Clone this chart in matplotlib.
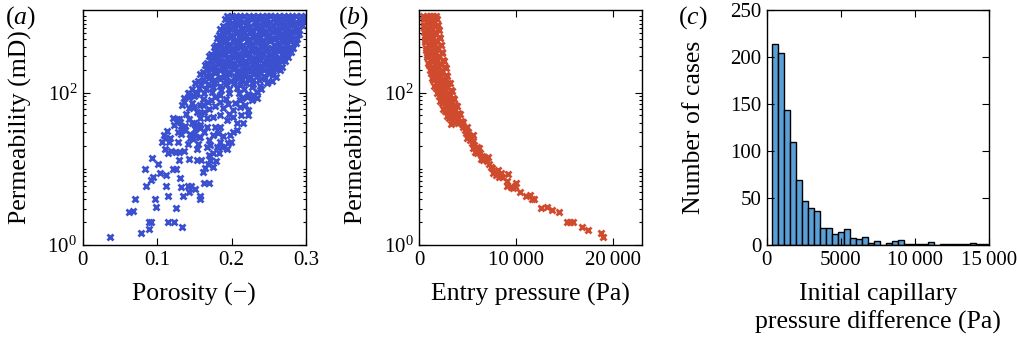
import numpy as np
import matplotlib
matplotlib.use("Agg")
import matplotlib.pyplot as plt
from matplotlib.ticker import FixedLocator, LogLocator, NullFormatter

# ---------------- data ----------------
# Panel (a): porosity vs log10(permeability / mD)
# dense band, row by row
poro_dense = [
    0.194, 0.200, 0.206, 0.211, 0.217, 0.224, 0.229, 0.235, 0.241, 0.247, 0.252, 0.258, 0.264, 0.270, 0.276, 0.281, 0.287, 0.293, 0.298,
    0.191, 0.197, 0.204, 0.209, 0.215, 0.221, 0.228, 0.233, 0.239, 0.246, 0.251, 0.257, 0.262, 0.269, 0.274, 0.280, 0.286, 0.291, 0.296,
    0.188, 0.195, 0.201, 0.207, 0.212, 0.219, 0.225, 0.231, 0.237, 0.243, 0.249, 0.255, 0.260, 0.266, 0.272, 0.278, 0.284, 0.289, 0.294,
    0.185, 0.191, 0.198, 0.204, 0.209, 0.216, 0.222, 0.228, 0.234, 0.239, 0.246, 0.252, 0.258, 0.263, 0.269, 0.275, 0.281, 0.286, 0.291,
    0.183, 0.189, 0.195, 0.201, 0.207, 0.213, 0.219, 0.226, 0.232, 0.238, 0.243, 0.249, 0.255, 0.261, 0.267, 0.273, 0.279, 0.285, 0.290,
    0.181, 0.187, 0.193, 0.199, 0.205, 0.211, 0.217, 0.223, 0.229, 0.236, 0.242, 0.247, 0.253, 0.259, 0.265, 0.271, 0.277, 0.283, 0.288,
    0.179, 0.185, 0.191, 0.197, 0.203, 0.209, 0.215, 0.221, 0.227, 0.233, 0.239, 0.245, 0.251, 0.257, 0.263, 0.269, 0.275, 0.280, 0.286,
    0.176, 0.182, 0.188, 0.194, 0.200, 0.206, 0.212, 0.218, 0.224, 0.230, 0.236, 0.242, 0.248, 0.254, 0.260, 0.266, 0.272, 0.278, 0.283,
    0.173, 0.179, 0.185, 0.191, 0.197, 0.203, 0.209, 0.215, 0.221, 0.227, 0.233, 0.239, 0.245, 0.251, 0.257, 0.263, 0.269, 0.275, 0.280,
    0.170, 0.176, 0.182, 0.188, 0.194, 0.200, 0.206, 0.212, 0.218, 0.224, 0.230, 0.236, 0.241, 0.247, 0.253, 0.259, 0.265, 0.271, 0.276,
    0.167, 0.173, 0.179, 0.185, 0.191, 0.197, 0.203, 0.209, 0.214, 0.220, 0.226, 0.232, 0.238, 0.244, 0.250, 0.255, 0.261, 0.267, 0.272,
    0.164, 0.170, 0.176, 0.182, 0.188, 0.194, 0.200, 0.205, 0.211, 0.217, 0.223, 0.229, 0.235, 0.240, 0.246, 0.252, 0.258, 0.263, 0.268,
    0.161, 0.167, 0.173, 0.179, 0.185, 0.190, 0.196, 0.202, 0.208, 0.214, 0.220, 0.226, 0.231, 0.237, 0.243, 0.249, 0.254, 0.260, 0.265,
    0.158, 0.165, 0.171, 0.178, 0.184, 0.191, 0.197, 0.204, 0.210, 0.217, 0.223, 0.230, 0.236, 0.243, 0.249, 0.255, 0.260,
    0.155, 0.162, 0.170, 0.177, 0.185, 0.192, 0.199, 0.207, 0.214, 0.222, 0.229, 0.237, 0.245, 0.254,
    0.151, 0.159, 0.168, 0.176, 0.185, 0.193, 0.203, 0.211, 0.220, 0.229, 0.238, 0.247,
    0.147, 0.156, 0.166, 0.175, 0.186, 0.196, 0.207, 0.217, 0.228, 0.240,
    0.142, 0.152, 0.163, 0.174, 0.185, 0.197, 0.210, 0.222, 0.234,
    0.136, 0.149, 0.161, 0.178, 0.193, 0.214, 0.230,
]
logperm_dense = [
    3.00, 3.00, 3.00, 3.00, 3.00, 3.00, 3.00, 3.00, 3.00, 3.00, 3.00, 3.00, 3.00, 3.00, 3.00, 3.00, 3.00, 3.00, 3.00,
    2.96, 2.94, 2.95, 2.97, 2.93, 2.95, 2.96, 2.94, 2.97, 2.95, 2.93, 2.96, 2.95, 2.94, 2.97, 2.95, 2.93, 2.96, 2.95,
    2.87, 2.89, 2.91, 2.88, 2.90, 2.89, 2.87, 2.91, 2.88, 2.90, 2.89, 2.88, 2.91, 2.87, 2.89, 2.90, 2.88, 2.91, 2.89,
    2.84, 2.82, 2.83, 2.85, 2.81, 2.83, 2.84, 2.82, 2.85, 2.83, 2.81, 2.84, 2.83, 2.82, 2.85, 2.83, 2.81, 2.84, 2.82,
    2.75, 2.77, 2.79, 2.76, 2.78, 2.77, 2.75, 2.79, 2.76, 2.78, 2.77, 2.76, 2.79, 2.75, 2.77, 2.78, 2.76, 2.79, 2.77,
    2.72, 2.70, 2.71, 2.73, 2.69, 2.71, 2.72, 2.70, 2.73, 2.71, 2.69, 2.72, 2.71, 2.70, 2.73, 2.71, 2.69, 2.72, 2.70,
    2.63, 2.65, 2.67, 2.64, 2.66, 2.65, 2.63, 2.67, 2.64, 2.66, 2.65, 2.64, 2.67, 2.63, 2.65, 2.66, 2.64, 2.67, 2.65,
    2.60, 2.58, 2.59, 2.61, 2.57, 2.59, 2.60, 2.58, 2.61, 2.59, 2.57, 2.60, 2.59, 2.58, 2.61, 2.59, 2.57, 2.60, 2.58,
    2.51, 2.53, 2.55, 2.52, 2.54, 2.53, 2.51, 2.55, 2.52, 2.54, 2.53, 2.52, 2.55, 2.51, 2.53, 2.54, 2.52, 2.55, 2.53,
    2.48, 2.46, 2.47, 2.49, 2.45, 2.47, 2.48, 2.46, 2.49, 2.47, 2.45, 2.48, 2.47, 2.46, 2.49, 2.47, 2.45, 2.48, 2.46,
    2.39, 2.41, 2.43, 2.40, 2.42, 2.41, 2.39, 2.43, 2.40, 2.42, 2.41, 2.40, 2.43, 2.39, 2.41, 2.42, 2.40, 2.43, 2.41,
    2.36, 2.34, 2.35, 2.37, 2.33, 2.35, 2.36, 2.34, 2.37, 2.35, 2.33, 2.36, 2.35, 2.34, 2.37, 2.35, 2.33, 2.36, 2.34,
    2.27, 2.29, 2.31, 2.28, 2.30, 2.29, 2.27, 2.31, 2.28, 2.30, 2.29, 2.28, 2.31, 2.27, 2.29, 2.30, 2.28, 2.31, 2.29,
    2.24, 2.22, 2.23, 2.25, 2.21, 2.23, 2.24, 2.22, 2.25, 2.23, 2.21, 2.24, 2.23, 2.22, 2.25, 2.23, 2.21,
    2.15, 2.17, 2.19, 2.16, 2.18, 2.17, 2.15, 2.19, 2.16, 2.18, 2.17, 2.16, 2.19, 2.15,
    2.12, 2.10, 2.11, 2.13, 2.09, 2.11, 2.12, 2.10, 2.13, 2.11, 2.09, 2.12,
    2.04, 2.06, 2.05, 2.07, 2.03, 2.05, 2.06, 2.04, 2.07, 2.05,
    2.00, 1.98, 1.99, 2.01, 1.97, 1.99, 2.00, 1.98, 2.01,
    1.93, 1.95, 1.92, 1.94, 1.91, 1.93, 1.95,
]
# sparser points of panel (a): (porosity, log10 permeability)
poro_sparse = [
    0.0371, 0.0788, 0.0896, 0.0896, 0.0913, 0.0627, 0.0680, 0.0703, 0.0967, 0.0985,
    0.0851, 0.0920, 0.0945, 0.1035, 0.1115, 0.0842, 0.0927, 0.1008, 0.1218, 0.1258,
    0.1147, 0.1151, 0.1228, 0.1335, 0.1250, 0.1308, 0.1115, 0.1326, 0.1344, 0.1425,
    0.1410, 0.1456, 0.1513, 0.1570, 0.1570, 0.1299, 0.1425, 0.1536, 0.1590, 0.1106,
    0.1142, 0.1191, 0.1260, 0.1290, 0.1366, 0.1066, 0.1164, 0.1174, 0.1110, 0.1093,
    0.1129, 0.1277, 0.1281, 0.1317, 0.1335, 0.1375, 0.1223, 0.1218, 0.1267, 0.1299,
    0.1321, 0.1312, 0.1393, 0.1411, 0.1442, 0.1482, 0.1492, 0.1438, 0.1546, 0.1577,
    0.1536, 0.1371, 0.1469, 0.1425, 0.1496, 0.1532, 0.1577, 0.1513, 0.1335, 0.1357,
    0.1469, 0.1425, 0.1425, 0.1536, 0.1573, 0.1425, 0.1492, 0.1536, 0.1580,
    0.1633, 0.1698, 0.1620, 0.1648, 0.1688, 0.1755, 0.1710, 0.1792, 0.1702, 0.1755,
    0.1828, 0.1872, 0.1949, 0.1989, 0.1935, 0.1845, 0.1801, 0.1710, 0.1702, 0.1667,
    0.1747, 0.1823, 0.1882, 0.1980, 0.2025, 0.2078, 0.2070, 0.2159, 0.2226, 0.2226,
    0.2124, 0.2025, 0.1935, 0.1845, 0.1778, 0.1667, 0.1577, 0.1559, 0.1630, 0.1577,
    0.1667, 0.1755, 0.1845, 0.2025, 0.2114, 0.2181, 0.2272, 0.2339, 0.2339, 0.2293,
    0.2204, 0.2114, 0.2047, 0.1700, 0.1780, 0.1880, 0.1950, 0.1630, 0.1850, 0.1730,
    0.1960, 0.1610, 0.1680,
]
logperm_sparse = [
    0.105, 0.153, 0.206, 0.298, 0.298, 0.429, 0.450, 0.600, 0.600, 0.499,
    0.774, 0.850, 0.888, 0.950, 0.915, 0.997, 1.142, 1.059, 0.997, 0.997,
    0.643, 0.298, 0.298, 0.232, 0.490, 0.884, 0.774, 0.757, 0.647, 0.696,
    0.774, 0.774, 0.739, 0.643, 0.600, 1.110, 1.128, 1.115, 1.115, 1.260,
    1.211, 1.234, 1.220, 1.220, 1.230, 1.348, 1.356, 1.400, 1.408, 1.448,
    1.492, 1.356, 1.479, 1.457, 1.505, 1.505, 1.579, 1.667, 1.650, 1.650,
    1.566, 1.618, 1.715, 1.330, 1.400, 1.395, 1.461, 1.461, 1.330, 1.420,
    1.256, 1.558, 1.597, 1.650, 1.605, 1.579, 1.579, 1.518, 1.841, 1.877,
    1.867, 1.946, 1.990, 1.990, 1.837, 1.794, 1.815, 1.749, 1.728,
    0.818, 0.818, 0.962, 1.006, 1.059, 1.027, 1.115, 1.106, 1.181, 1.203,
    1.203, 1.282, 1.335, 1.348, 1.260, 1.356, 1.290, 1.312, 1.378, 1.282,
    1.444, 1.466, 1.430, 1.444, 1.487, 1.509, 1.597, 1.597, 1.772, 1.706,
    1.706, 1.684, 1.640, 1.552, 1.552, 1.552, 1.531, 1.421, 1.487, 1.662,
    1.662, 1.684, 1.706, 1.772, 1.815, 1.837, 1.903, 1.925, 2.012, 1.969,
    1.946, 1.903, 1.860, 1.780, 1.820, 1.800, 1.850, 1.750, 1.880, 1.900,
    1.720, 1.830, 1.870,
]

# Panel (b): entry pressure (Pa) vs log10(permeability / mD)
pe_dense = [
    420, 750, 1090, 1420, 1750,
    440, 790, 1120, 1480, 1820,
    450, 810, 1180, 1540, 1890,
    460, 840, 1210, 1590, 1950,
    500, 880, 1260, 1640, 2010,
    540, 920, 1300, 1690, 2070,
    580, 970, 1360, 1750, 2140,
    620, 1020, 1410, 1810, 2200,
    670, 1070, 1470, 1870, 2260,
    720, 1120, 1520, 1930, 2320,
    780, 1190, 1590, 1990, 2390,
    840, 1250, 1650, 2060, 2460,
    910, 1320, 1730, 2140, 2540,
    990, 1400, 1810, 2220, 2620,
    1070, 1480, 1890, 2310, 2710,
    1160, 1570, 1980, 2390, 2790,
    1270, 1680, 2090, 2490, 2890,
    1390, 1790, 2200, 2600, 2990,
    1530, 1930, 2330, 2730, 3120,
    1690, 2090, 2480, 2880, 3260,
    1860, 2240, 2620, 3000, 3370,
    2010, 2380, 2750, 3130, 3490,
    2160, 2530, 2890, 3260, 3610,
    2310, 2670, 3030, 3390, 3730,
    2480, 2830, 3170, 3520, 3850,
    2660, 3000, 3330, 3670, 3990,
    2860, 3190, 3520, 3850, 4170,
    3060, 3390, 3710, 4030, 4340,
    3260, 3650, 4000, 4400,
]
logperm_b_dense = [
    3.00, 3.00, 3.00, 3.00, 3.00,
    2.96, 2.94, 2.95, 2.93, 2.96,
    2.89, 2.91, 2.90, 2.92, 2.88,
    2.86, 2.84, 2.85, 2.87, 2.83,
    2.79, 2.81, 2.80, 2.78, 2.82,
    2.76, 2.74, 2.75, 2.77, 2.73,
    2.69, 2.71, 2.70, 2.68, 2.72,
    2.66, 2.64, 2.65, 2.67, 2.63,
    2.59, 2.61, 2.60, 2.58, 2.62,
    2.56, 2.54, 2.55, 2.57, 2.53,
    2.49, 2.51, 2.50, 2.48, 2.52,
    2.46, 2.44, 2.45, 2.47, 2.43,
    2.39, 2.41, 2.40, 2.38, 2.42,
    2.36, 2.34, 2.35, 2.37, 2.33,
    2.29, 2.31, 2.30, 2.28, 2.32,
    2.26, 2.24, 2.25, 2.27, 2.23,
    2.19, 2.21, 2.20, 2.18, 2.22,
    2.16, 2.14, 2.15, 2.17, 2.13,
    2.09, 2.11, 2.10, 2.08, 2.12,
    2.06, 2.04, 2.05, 2.07, 2.03,
    1.99, 2.01, 2.00, 1.98, 2.02,
    1.96, 1.94, 1.95, 1.97, 1.93,
    1.89, 1.91, 1.90, 1.88, 1.92,
    1.86, 1.84, 1.85, 1.87, 1.83,
    1.79, 1.81, 1.80, 1.78, 1.82,
    1.76, 1.74, 1.75, 1.77, 1.73,
    1.69, 1.71, 1.70, 1.68, 1.72,
    1.66, 1.64, 1.65, 1.67, 1.63,
    1.59, 1.61, 1.60, 1.62,
]
pe_tail = [
    18969, 18700, 17392, 16773, 15814, 15536, 15258, 14371, 13680, 13134,
    12546, 11856, 11650, 11443, 11000, 10381, 9969, 9897, 9629, 9454,
    9072, 9072, 9150, 8495, 8247, 8423, 8144, 7907, 7629, 7495,
    7361, 7155, 7082, 6948, 6598, 6330, 6433, 6701, 6258, 6082,
    5918, 5742, 6186, 5918, 5670, 5567, 5402, 5227, 5155, 4948,
    4814, 4711, 4536, 4371, 4196, 5505, 5567, 5051, 4887, 4536,
]
logperm_b_tail = [
    0.101, 0.153, 0.201, 0.232, 0.298, 0.298, 0.298, 0.433, 0.455, 0.503,
    0.490, 0.600, 0.600, 0.652, 0.647, 0.700, 0.818, 0.778, 0.744, 0.765,
    0.774, 0.840, 0.928, 0.896, 0.896, 0.941, 0.984, 0.919, 0.941, 1.006,
    1.028, 1.059, 1.159, 1.106, 1.115, 1.125, 1.168, 1.151, 1.203, 1.238,
    1.203, 1.225, 1.273, 1.290, 1.312, 1.269, 1.335, 1.378, 1.430, 1.400,
    1.466, 1.509, 1.552, 1.588, 1.618, 1.444, 1.369, 1.487, 1.552, 1.618,
]

# Panel (c): histogram of initial capillary pressure difference (Pa)
bin_edges = [378, 783, 1188, 1593, 1998, 2403, 2808, 3213, 3618, 4023, 4428,
             4833, 5238, 5643, 6048, 6453, 6858, 7263, 7668, 8073, 8478,
             8883, 9288, 9693, 10098, 10503, 10908, 11313, 11718, 12123,
             12528, 12933, 13338, 13743, 14148, 14553, 14958]
counts = [214, 204, 144, 110, 69, 47, 39, 36, 18, 18, 12, 14, 17, 7, 6, 8,
          2, 4, 0, 2, 4, 5, 1, 1, 1, 1, 3, 0, 1, 1, 1, 1, 1, 2, 1, 1]

# ---------------- style ----------------
plt.rcParams['font.family'] = 'Liberation Serif'
plt.rcParams['mathtext.fontset'] = 'custom'
plt.rcParams['mathtext.rm'] = 'Liberation Serif'
plt.rcParams['mathtext.it'] = 'Liberation Serif:italic'
plt.rcParams['mathtext.bf'] = 'Liberation Serif:bold'

BLUE = '#3a50cf'
RED = '#d04a2e'
HIST = '#5a9fd6'
TICK_FS = 15
LABEL_FS = 18.5
MS = 4.5
MEW = 2.0

fig = plt.figure(figsize=(10.17, 3.39), dpi=100)
W, H = 1017.0, 339.0


def add_axes(left_px, right_px, top_px=10, bottom_px=245):
    return fig.add_axes([left_px / W, 1 - bottom_px / H,
                         (right_px - left_px) / W, (bottom_px - top_px) / H])


def style(ax):
    ax.tick_params(which='both', direction='in', top=True, right=True,
                   labelsize=TICK_FS, pad=4, width=0.8)
    ax.tick_params(which='major', length=5)
    ax.tick_params(which='minor', length=2.5)
    for s in ax.spines.values():
        s.set_linewidth(1.0)


def log_y(ax):
    ax.set_yscale('log')
    ax.set_ylim(1, 1210)
    ax.yaxis.set_major_locator(FixedLocator([1, 100]))
    ax.set_yticklabels([r'$10^{0}$', r'$10^{2}$'])
    ax.yaxis.set_minor_locator(LogLocator(base=10, subs=np.arange(1, 10), numticks=20))
    ax.yaxis.set_minor_formatter(NullFormatter())


# ---- (a)
axa = add_axes(82.7, 306)
style(axa)
axa.plot(poro_dense, np.power(10.0, logperm_dense), 'x', color=BLUE, ms=MS, mew=MEW)
axa.plot(poro_sparse, np.power(10.0, logperm_sparse), 'x', color=BLUE, ms=MS, mew=MEW)
log_y(axa)
axa.set_xlim(0, 0.3)
axa.set_xticks([0, 0.1, 0.2, 0.3])
axa.set_xticklabels(['0', '0.1', '0.2', '0.3'])
axa.set_xlabel('Porosity (\u2212)', fontsize=LABEL_FS)
axa.set_ylabel('Permeability (mD)', fontsize=LABEL_FS)
axa.xaxis.set_label_coords(0.5, -0.16)
axa.yaxis.set_label_coords(-0.225, 0.5)

# ---- (b)
axb = add_axes(419.3, 642.3)
style(axb)
axb.plot(pe_dense, np.power(10.0, logperm_b_dense), 'x', color=RED, ms=MS, mew=MEW)
axb.plot(pe_tail, np.power(10.0, logperm_b_tail), 'x', color=RED, ms=MS, mew=MEW)
log_y(axb)
axb.set_xlim(0, 23000)
axb.set_xticks([0, 10000, 20000])
axb.set_xticklabels(['0', '10\u2009000', '20\u2009000'])
axb.set_xlabel('Entry pressure (Pa)', fontsize=LABEL_FS)
axb.set_ylabel('Permeability (mD)', fontsize=LABEL_FS)
axb.xaxis.set_label_coords(0.5, -0.16)
axb.yaxis.set_label_coords(-0.23, 0.5)

# ---- (c)
axc = add_axes(766.7, 989)
style(axc)
edges = np.asarray(bin_edges, dtype=float)
axc.bar(edges[:-1], counts, width=np.diff(edges), align='edge',
        color=HIST, edgecolor='black', linewidth=1.0)
axc.set_xlim(0, 15000)
axc.set_ylim(0, 250)
axc.set_xticks([0, 5000, 10000, 15000])
axc.set_xticklabels(['0', '5000', '10\u2009000', '15\u2009000'])
axc.set_yticks([0, 50, 100, 150, 200, 250])
axc.set_xlabel('Initial capillary\npressure difference (Pa)', fontsize=LABEL_FS,
               linespacing=1.35)
axc.set_ylabel('Number of cases', fontsize=LABEL_FS)
axc.xaxis.set_label_coords(0.5, -0.16)
axc.yaxis.set_label_coords(-0.277, 0.5)

# panel letters
for xpx, lab in [(5, 'a'), (338, 'b'), (678, 'c')]:
    fig.text(xpx / W, 1 - 4 / H, r'$(%s)$' % lab, fontsize=LABEL_FS,
             ha='left', va='top')

fig.savefig('out.png', dpi=100)
